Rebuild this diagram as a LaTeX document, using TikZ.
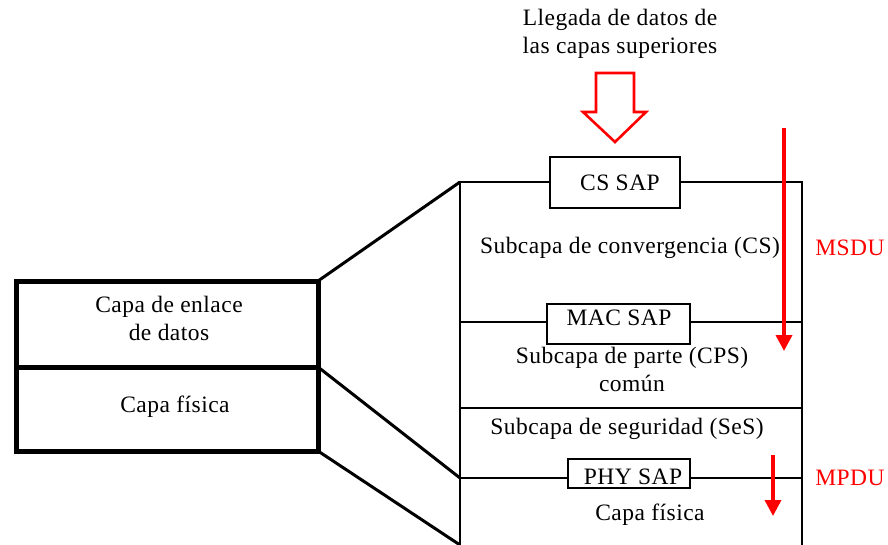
\documentclass[tikz,border=0pt]{standalone}
\usepackage{fontspec}
\setmainfont{Liberation Serif}[LetterSpace=2]
\usetikzlibrary{arrows.meta}
\begin{document}
\begin{tikzpicture}[x=1pt,y=-1pt,
  lbl/.style={font=\fontsize{23.5}{28}\selectfont, inner sep=0pt, align=center},
  redlbl/.style={lbl, text=red},
  layerbox/.style={draw, line width=5pt, minimum width=302pt, inner sep=0pt, outer sep=0pt, anchor=north west},
  sub/.style={draw, line width=2.6pt, minimum width=342pt, inner sep=0pt, outer sep=0pt, anchor=north west},
  sap/.style={draw, line width=2.8pt, fill=white, inner sep=0pt, outer sep=0pt},
  link/.style={line width=3pt},
  flow/.style={draw=red, line width=3.5pt, -{Triangle[width=16pt,length=16pt]}},
  hollow/.style={draw=red, line width=2.6pt, fill=white, line join=miter}]
\useasboundingbox (0,0) rectangle (888,545);

% left layers
\node[layerbox, minimum height=86pt] (dl) at (16,281) {};
\node[layerbox, minimum height=84pt] (pl) at (16,367) {};
\node[lbl] (dlt) at (169,318) {Capa de enlace\\de datos};
\node[lbl] (plt) at (175,407) {Capa física};

% right sublayers
\node[sub, minimum height=140pt] (cs) at (460,182) {};
\node[sub, minimum height=86pt] (cps) at (460,322) {};
\node[sub, minimum height=70pt] (ses) at (460,408) {};
\node[minimum width=342pt, minimum height=67pt, inner sep=0pt, outer sep=0pt, anchor=north west] (phy) at (460,478) {};
\draw[line width=2.6pt] (phy.north west) -- (phy.south west);
\draw[line width=2.6pt] (phy.north east) -- (phy.south east);

% connectors
\draw[link] (dl.north east) -- (cs.north west);
\draw[link] (dl.south east) -- (phy.north west);
\draw[link] (pl.south east) -- (phy.south west);

% SAP boxes
\node[sap, minimum width=130pt, minimum height=51pt] (cssap) at (615,182.5) {};
\node[sap, minimum width=143pt, minimum height=40pt] (macsap) at (618.5,324) {};
\node[sap, minimum width=122pt, minimum height=29pt] (physap) at (629,473.5) {};
\node[lbl] (cssapt) at (620,183) {CS SAP};
\node[lbl] (macsapt) at (619,318) {MAC SAP};
\node[lbl] (physapt) at (633,477) {PHY SAP};

% sublayer texts
\node[lbl] (cst) at (630,248) {Subcapa de convergencia (CS)};
\node[lbl] (cpst) at (632,369) {Subcapa de parte (CPS)\\común};
\node[lbl] (sest) at (627,429) {Subcapa de seguridad (SeS)};
\node[lbl] (phyt) at (650,515) {Capa física};

% top text and hollow arrow
\node[lbl] (top) at (620,34) {Llegada de datos de\\las capas superiores};
\draw[hollow] (596,73) -- (634,73) -- (634,112) -- (646,112) -- (615,142) -- (583,112) -- (596,112) -- cycle;

% red flow arrows
\coordinate (m1) at (784,128);
\coordinate (m2) at (784,351);
\coordinate (p1) at (773,455);
\coordinate (p2) at (773,516);
\draw[flow] (m1) -- (m2);
\draw[flow] (p1) -- (p2);
\node[redlbl] (msdu) at (850,248) {MSDU};
\node[redlbl] (mpdu) at (850,478) {MPDU};
\end{tikzpicture}
\end{document}
